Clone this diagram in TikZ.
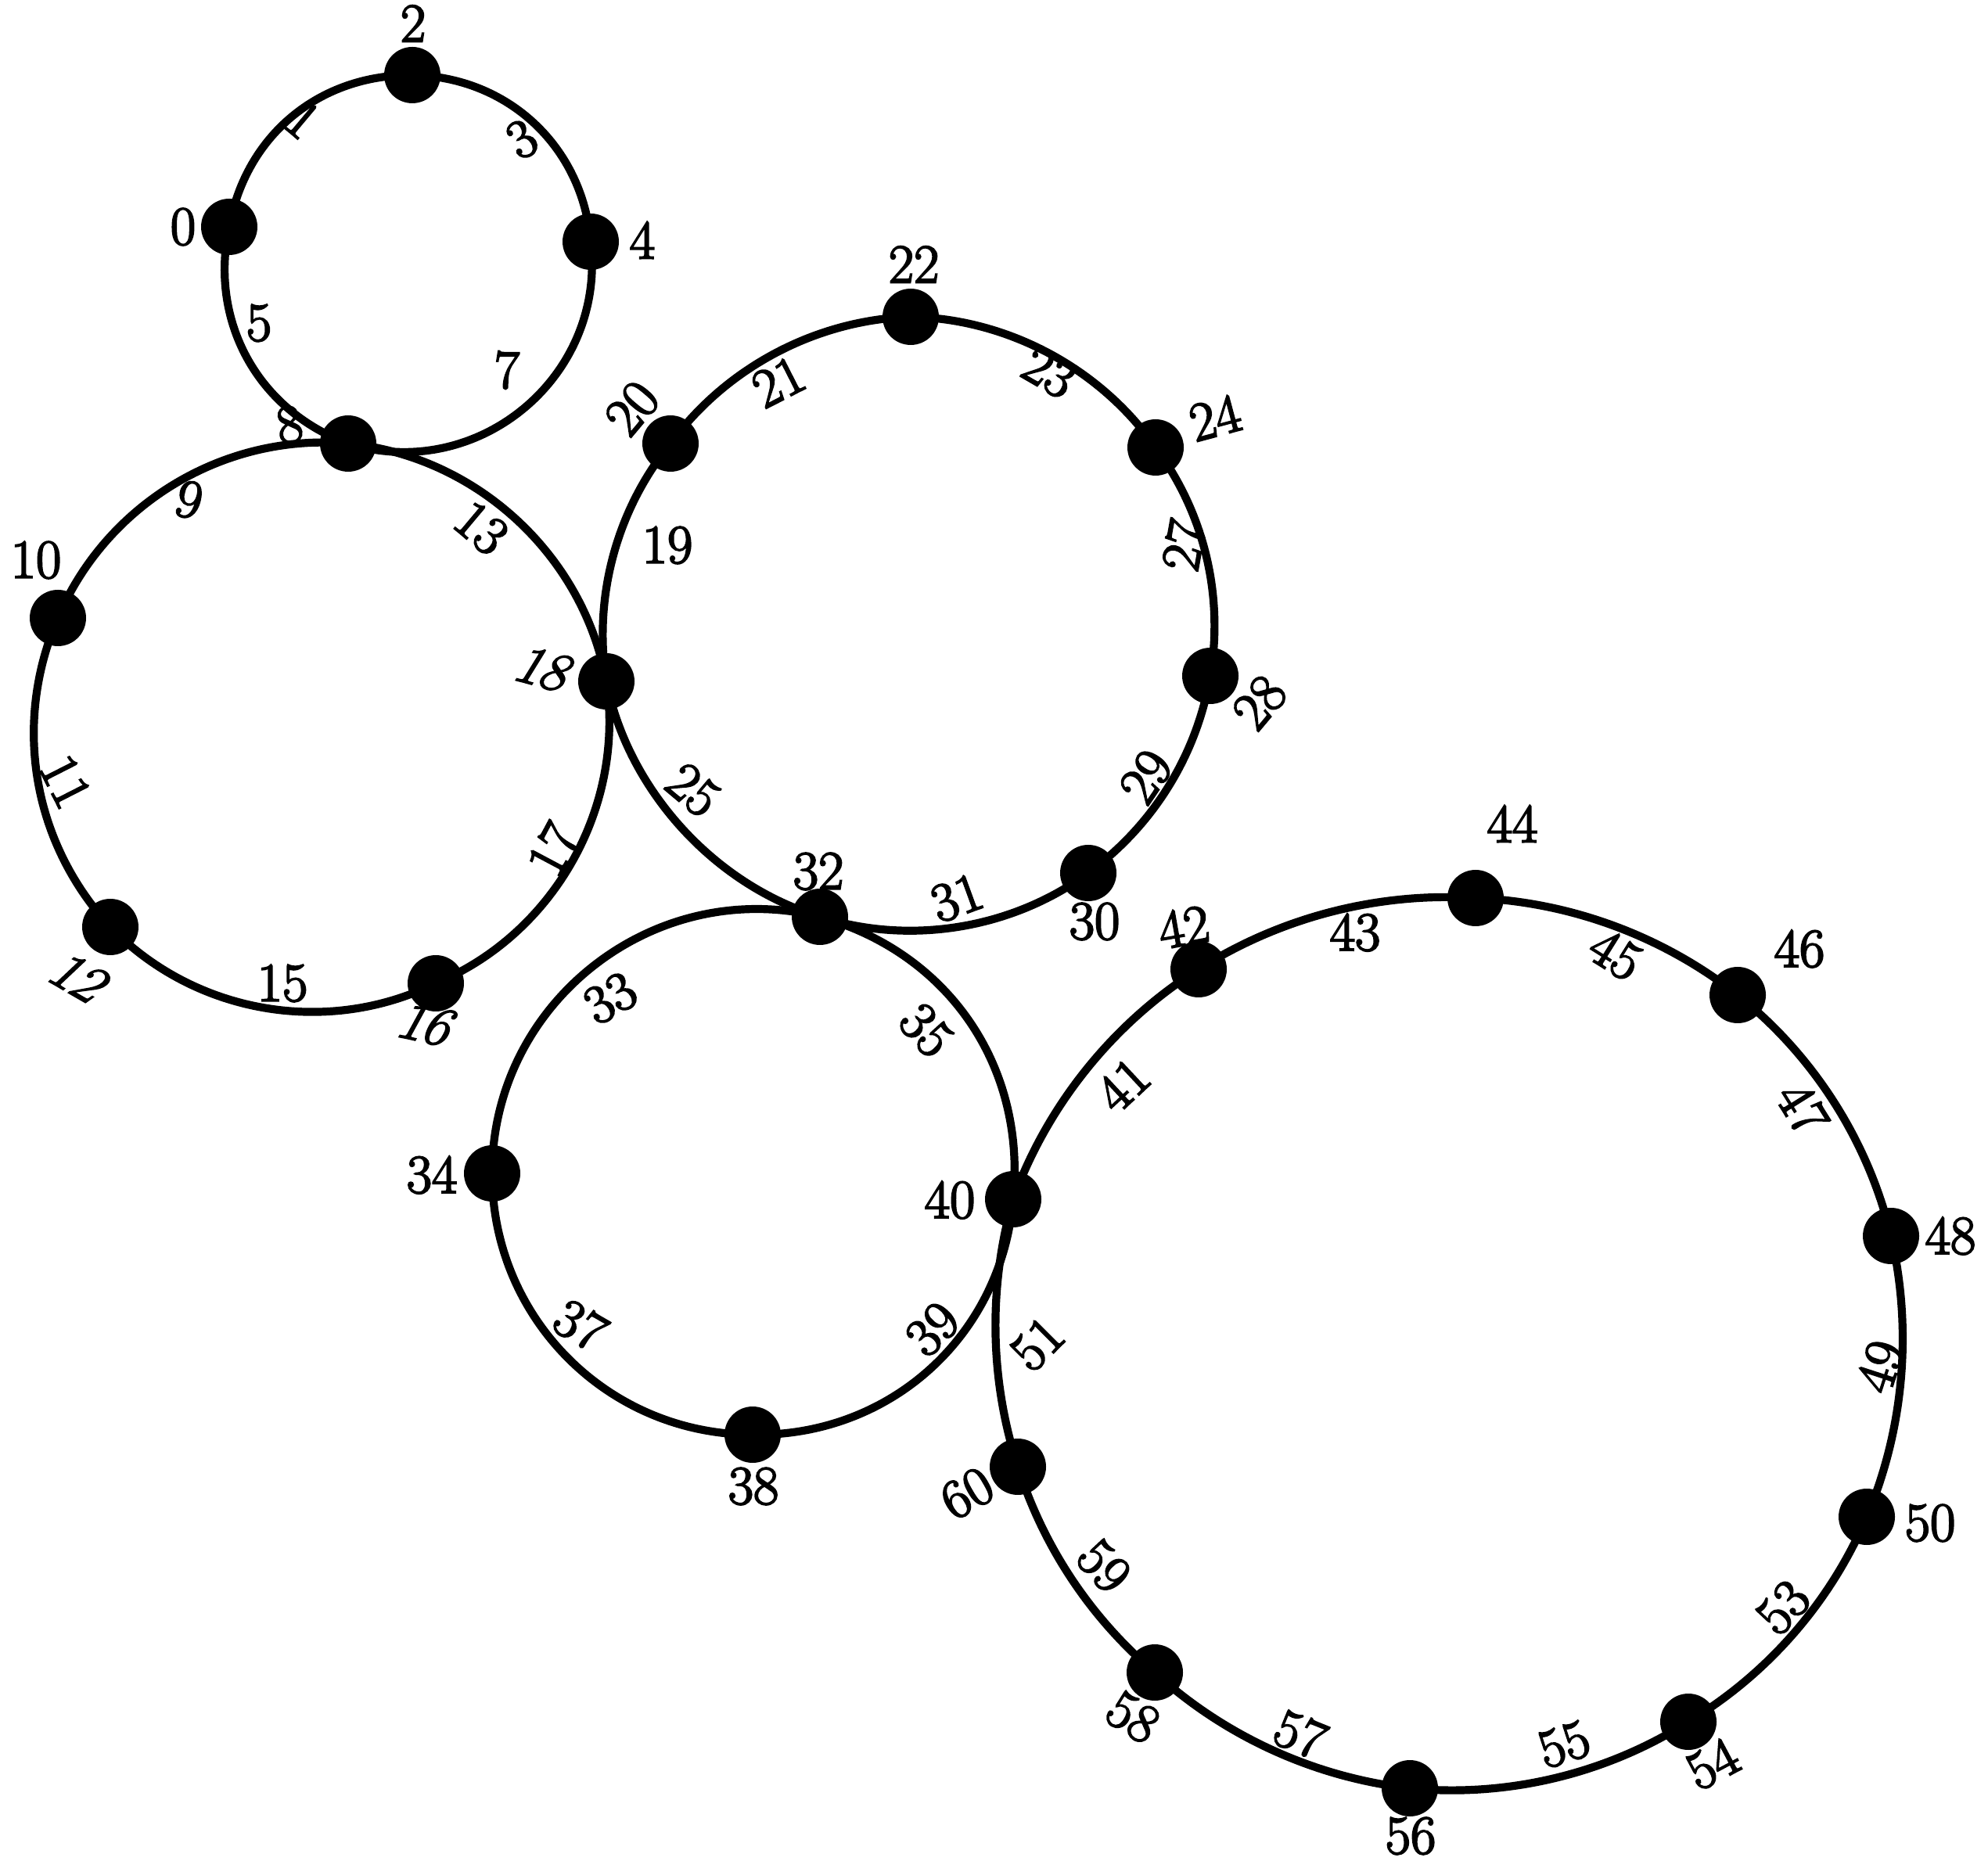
\documentclass[tikz,border=0pt]{standalone}
\usepackage{fontspec}
\newfontfamily\labfont{Latin Modern Roman}[FakeBold=3]
\begin{document}
\begin{tikzpicture}[
  vertex/.style={circle, fill=black, inner sep=0pt, minimum size=7.2mm},
  lab/.style={font=\labfont\fontsize{20}{24}\selectfont, inner sep=0pt},
  ring/.style={black, line width=2.9pt}]
\useasboundingbox (0,0) rectangle (25.41,23.78);
% vertices
\node[vertex] (v0) at (2.93, 20.88){};
\node[vertex] (v2) at (5.27, 22.82){};
\node[vertex] (v4) at (7.55, 20.69){};
\node[vertex] (v8) at (4.45, 18.11){};
\node[vertex] (v10) at (0.74, 15.88){};
\node[vertex] (v12) at (1.41, 11.93){};
\node[vertex] (v16) at (5.57, 11.21){};
\node[vertex] (v18) at (7.75, 15.07){};
\node[vertex] (v20) at (8.57, 18.11){};
\node[vertex] (v22) at (11.64, 19.73){};
\node[vertex] (v24) at (14.77, 18.06){};
\node[vertex] (v28) at (15.47, 15.14){};
\node[vertex] (v30) at (13.91, 12.62){};
\node[vertex] (v32) at (10.48, 12.06){};
\node[vertex] (v34) at (6.29, 8.78){};
\node[vertex] (v38) at (9.62, 5.44){};
\node[vertex] (v40) at (12.95, 8.45){};
\node[vertex] (v42) at (15.32, 11.39){};
\node[vertex] (v44) at (18.86, 12.30){};
\node[vertex] (v46) at (22.21, 11.06){};
\node[vertex] (v48) at (24.17, 7.98){};
\node[vertex] (v50) at (23.86, 4.39){};
\node[vertex] (v54) at (21.58, 1.77){};
\node[vertex] (v56) at (18.02, 0.92){};
\node[vertex] (v58) at (14.76, 2.40){};
\node[vertex] (v60) at (13.01, 5.03){};
% rings
\draw[ring] (v0.center) to[bend left=40] (v2.center) to[bend left=42] (v4.center)
  to[bend left=57, looseness=1.1] (v8.center) to[bend left=41] (v0.center);
\draw[ring, looseness=.94] (v8.center) to[bend left=37] (v18.center) to[bend left=38] (v16.center)
  to[bend left=36] (v12.center) to[bend left=33] (v10.center) to[bend left=36] (v8.center);
\draw[ring, looseness=.89] (v18.center) to[bend left=24] (v20.center) to[bend left=26] (v22.center)
  to[bend left=27] (v24.center) to[bend left=23] (v28.center) to[bend left=22] (v30.center)
  to[bend left=27] (v32.center) to[bend left=31] (v18.center);
\draw[ring] (v32.center) to[bend left=40] (v40.center) to[bend left=43] (v38.center)
  to[bend left=45] (v34.center) to[bend left=52, looseness=1.05] (v32.center);
\draw[ring, looseness=.87] (v40.center) to[bend left=19] (v42.center) to[bend left=18] (v44.center)
  to[bend left=18] (v46.center) to[bend left=19] (v48.center) to[bend left=18] (v50.center)
  to[bend left=18] (v54.center) to[bend left=19] (v56.center) to[bend left=18] (v58.center)
  to[bend left=16] (v60.center) to[bend left=17] (v40.center);
% vertex labels
\node[lab] (l0) at (2.34, 20.88){0};
\node[lab] (l2) at (5.28, 23.48){2};
\node[lab] (l4) at (8.21, 20.71){4};
\node[lab, rotate=10] (l8) at (3.70, 18.35){8};
\node[lab] (l10) at (0.46, 16.62){10};
\node[lab, rotate=-30, xslant=.3] (l12) at (1.03, 11.27){12};
\node[lab, rotate=-12, xslant=.3] (l16) at (5.47, 10.68){16};
\node[lab, rotate=-15, xslant=.3] (l18) at (6.97, 15.22){18};
\node[lab, rotate=50] (l20) at (8.08, 18.56){20};
\node[lab] (l22) at (11.68, 20.40){22};
\node[lab, rotate=15] (l24) at (15.53, 18.44){24};
\node[lab, rotate=50] (l28) at (16.10, 14.80){28};
\node[lab] (l30) at (13.99, 12.00){30};
\node[lab] (l32) at (10.46, 12.64){32};
\node[lab] (l34) at (5.52, 8.76){34};
\node[lab] (l38) at (9.63, 4.78){38};
\node[lab] (l40) at (12.14, 8.44){40};
\node[lab, rotate=10] (l42) at (15.13, 11.93){42};
\node[lab] (l44) at (19.33, 13.25){44};
\node[lab] (l46) at (23.00, 11.65){46};
\node[lab] (l48) at (24.93, 7.98){48};
\node[lab] (l50) at (24.67, 4.31){50};
\node[lab, rotate=28] (l54) at (21.89, 1.23){54};
\node[lab] (l56) at (18.03, 0.31){56};
\node[lab, rotate=-32] (l58) at (14.48, 1.83){58};
\node[lab, rotate=30] (l60) at (12.36, 4.69){60};
% edge labels
\node[lab, rotate=-40] (e1) at (3.87, 22.25){1};
\node[lab, rotate=30] (e3) at (6.67, 22.00){3};
\node[lab] (e5) at (3.31, 19.65){5};
\node[lab] (e7) at (6.48, 19.05){7};
\node[lab, rotate=-15] (e9) at (2.42, 17.39){9};
\node[lab, rotate=-63] (e11) at (0.84, 13.79){11};
\node[lab, rotate=-40] (e13) at (6.15, 17.03){13};
\node[lab] (e15) at (3.61, 11.21){15};
\node[lab, rotate=62] (e17) at (7.07, 12.92){17};
\node[lab] (e19) at (8.53, 16.81){19};
\node[lab, rotate=27] (e21) at (9.95, 18.90){21};
\node[lab, rotate=-30] (e23) at (13.41, 19.02){23};
\node[lab, rotate=-40] (e25) at (8.86, 13.68){25};
\node[lab, rotate=80] (e27) at (15.13, 16.81){27};
\node[lab, rotate=56] (e29) at (14.65, 13.85){29};
\node[lab, rotate=20] (e31) at (12.23, 12.30){31};
\node[lab, rotate=30] (e33) at (7.80, 11.02){33};
\node[lab, rotate=-48] (e35) at (11.84, 10.61){35};
\node[lab, rotate=-30] (e37) at (7.42, 6.84){37};
\node[lab, rotate=45] (e39) at (11.92, 6.79){39};
\node[lab, rotate=43] (e41) at (14.35, 9.91){41};
\node[lab] (e43) at (17.32, 11.86){43};
\node[lab, rotate=-32] (e45) at (20.65, 11.58){45};
\node[lab, rotate=-58] (e47) at (23.04, 9.61){47};
\node[lab, rotate=72] (e49) at (24.03, 6.31){49};
\node[lab, rotate=45] (e51) at (13.26, 6.60){51};
\node[lab, rotate=47] (e53) at (22.79, 3.23){53};
\node[lab, rotate=18] (e55) at (19.99, 1.48){55};
\node[lab, rotate=-22] (e57) at (16.62, 1.61){57};
\node[lab, rotate=-47] (e59) at (14.11, 3.76){59};
\end{tikzpicture}
\end{document}
